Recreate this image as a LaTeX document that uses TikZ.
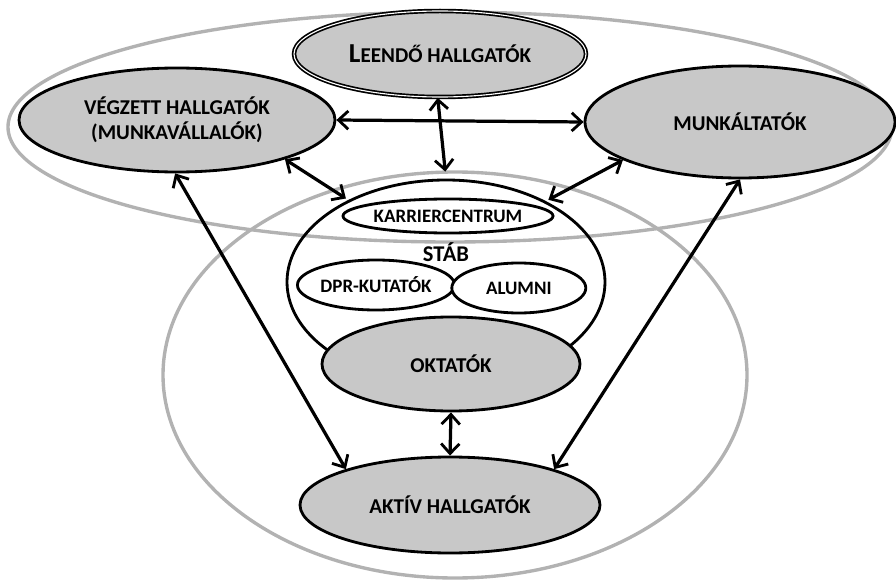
\documentclass[tikz,border=0pt]{standalone}
\usepackage{fontspec}
\setmainfont{Carlito}
\usetikzlibrary{shapes.geometric,arrows.meta}
\definecolor{fillgray}{RGB}{200,200,200}
\definecolor{ringgray}{RGB}{178,178,178}

\begin{document}
\begin{tikzpicture}[
    ring/.style={ellipse, draw=ringgray, line width=2.4pt, inner sep=0pt},
    actor/.style={ellipse, draw, fill=fillgray, line width=2pt, inner sep=0pt, align=center, font=\fontsize{15}{18}\selectfont\bfseries},
    unit/.style={ellipse, draw, fill=white, line width=2pt, inner sep=0pt, font=\fontsize{13.5}{16}\selectfont\bfseries},
    link/.style={{Straight Barb[length=7pt,width=13pt,line width=2pt]}-{Straight Barb[length=7pt,width=13pt,line width=2pt]}, line width=2.3pt}
  ]

    \useasboundingbox (0, 0) rectangle (22.4, -14.525);

    % outer rings
    \node[ring, minimum width=22.1cm, minimum height=5.75cm] (top) at (11.25, -3.175) {};
    \node[ring, minimum width=14.6cm, minimum height=10.15cm] (low) at (11.375, -9.375) {};

    % staff
    \node[ellipse, draw, line width=2pt, minimum width=7.95cm, minimum height=5.1cm] (stab) at (11.15, -7.05) {};
    \node[font=\fontsize{16}{18}\selectfont\bfseries] (stabtext) at (11.15, -6.3) {STÁB};
    \node[unit, minimum width=4.6cm, minimum height=0.85cm] (karrier) at (11.2, -5.4) {KARRIERCENTRUM};
    \node[unit, minimum width=3.5cm, minimum height=1.25cm] (dpr) at (9.4, -7.125) {DPR-KUTATÓK};
    \node[unit, minimum width=3.35cm, minimum height=1.25cm] (alumni) at (12.97, -7.2) {ALUMNI};

    % actors
    \node[actor, minimum width=7.3cm, minimum height=2.15cm, double, double distance=0.8pt, line width=1.2pt] (leendo) at (11.0, -1.35)
      {{\fontsize{19.5}{20}\selectfont L}EENDŐ HALLGATÓK};
    \node[actor, minimum width=7.9cm, minimum height=2.6cm] (vegzett) at (4.425, -3.0) {VÉGZETT HALLGATÓK\\(MUNKAVÁLLALÓK)};
    \node[actor, minimum width=7.75cm, minimum height=2.8cm] (munk) at (18.5, -3.05) {MUNKÁLTATÓK};
    \node[actor, minimum width=6.45cm, minimum height=2.35cm] (oktato) at (11.275, -9.1) {OKTATÓK};
    \node[actor, minimum width=7.5cm, minimum height=2.4cm] (aktiv) at (11.25, -12.625) {AKTÍV HALLGATÓK};

    % connections
    \draw [link, shorten >=5pt] (leendo.-93) to (stab.north);
    \draw [link] (vegzett.east) to (munk.west);
    \draw [link, shorten >=2pt] (vegzett.-20) to (stab.140);
    \draw [link, shorten >=2pt] (munk.198) to (stab.39);
    \draw [link] (vegzett.268) to (aktiv.161);
    \draw [link] (munk.270) to (aktiv.19);
    \draw [link] (oktato.south) to (aktiv.north);

  \end{tikzpicture}
\end{document}
